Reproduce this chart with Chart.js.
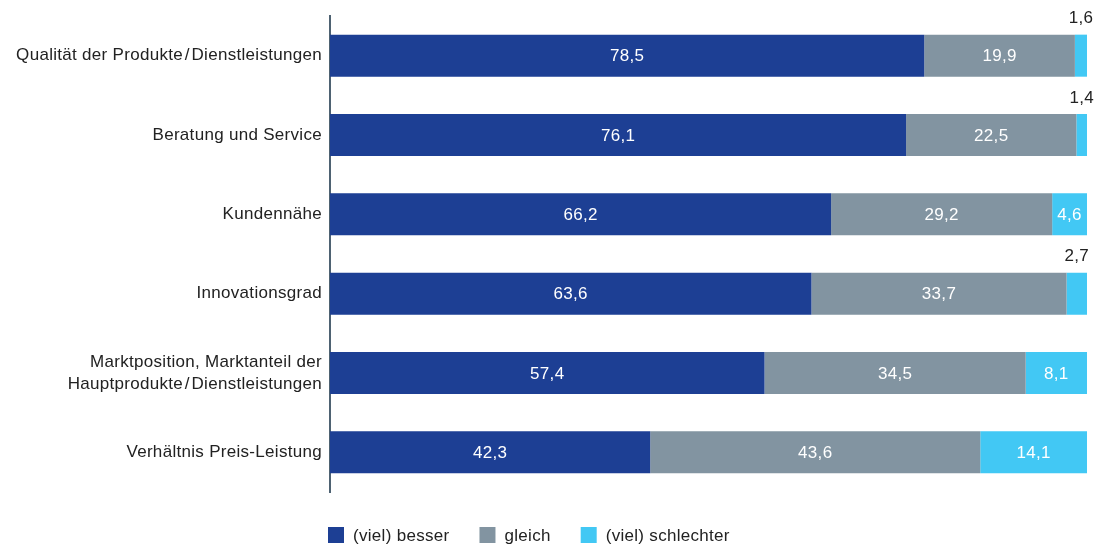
<!DOCTYPE html>
<html>
<head>
<meta charset="utf-8">
<script src="https://cdn.jsdelivr.net/npm/chart.js@4/dist/chart.umd.min.js"></script>
<style>
  html, body { margin: 0; padding: 0; background: #fff; }
  #wrap { width: 1096px; height: 547px; }
</style>
</head>
<body>
<div id="wrap"><canvas id="myChart" width="1096" height="547"></canvas></div>
<script>
// categories and shares in percent (each row sums to 100)
const categories = [
  'Qualität der Produkte\u200A/\u200ADienstleistungen',
  'Beratung und Service',
  'Kundennähe',
  'Innovationsgrad',
  ['Marktposition, Marktanteil der', 'Hauptprodukte\u200A/\u200ADienstleistungen'],
  'Verhältnis Preis-Leistung'
];
const besser = [78.5, 76.1, 66.2, 63.6, 57.4, 42.3];
const gleich = [19.9, 22.5, 29.2, 33.7, 34.5, 43.6];
const schlechter = [1.6, 1.4, 4.6, 2.7, 8.1, 14.1];
const seriesNames = ['(viel) besser', 'gleich', '(viel) schlechter'];
const seriesColors = ['#1d3f94', '#8294a1', '#42c8f4'];

const FONT = '"Liberation Sans", Arial, Helvetica, sans-serif';
const SPACING = '0.3px';
const fmt = v => v.toFixed(1).replace('.', ',');

// slightly wider tracking for all text on the canvas
const tracking = {
  id: 'tracking',
  beforeDraw(chart) { chart.ctx.letterSpacing = SPACING; }
};

// values written on the bars; small segments get their label above the bar
const valueLabels = {
  id: 'valueLabels',
  afterDatasetsDraw(chart) {
    const ctx = chart.ctx;
    ctx.save();
    ctx.letterSpacing = SPACING;
    ctx.font = '17px ' + FONT;
    ctx.textAlign = 'center';
    ctx.textBaseline = 'middle';
    chart.data.datasets.forEach((ds, i) => {
      chart.getDatasetMeta(i).data.forEach((bar, j) => {
        const v = ds.data[j];
        const cx = (bar.x + bar.base) / 2;
        if (v >= 4) {
          ctx.fillStyle = '#ffffff';
          ctx.fillText(fmt(v), cx, bar.y + 1);
        } else {
          ctx.fillStyle = '#222222';
          ctx.fillText(fmt(v), cx, bar.y - bar.height / 2 - 16);
        }
      });
    });
    ctx.restore();
  }
};

// legend row under the chart, starting at the axis line
const bottomLegend = {
  id: 'bottomLegend',
  afterDraw(chart) {
    const ctx = chart.ctx;
    ctx.save();
    ctx.letterSpacing = SPACING;
    ctx.font = '17px ' + FONT;
    ctx.textBaseline = 'middle';
    let x = chart.chartArea.left - 2;
    const y = 535;
    chart.data.datasets.forEach(ds => {
      ctx.fillStyle = ds.backgroundColor;
      ctx.fillRect(x, y - 8, 16, 16);
      ctx.fillStyle = '#222222';
      ctx.fillText(ds.label, x + 25, y + 1);
      x += 25 + ctx.measureText(ds.label).width + 30;
    });
    ctx.restore();
  }
};

const data = {
  labels: categories,
  datasets: [besser, gleich, schlechter].map((vals, i) => ({
    label: seriesNames[i],
    data: vals,
    backgroundColor: seriesColors[i],
    borderWidth: 0,
    barPercentage: 0.53,
    categoryPercentage: 1.0
  }))
};

const config = {
  type: 'bar',
  data: data,
  options: {
    indexAxis: 'y',
    responsive: false,
    animation: false,
    layout: { padding: { top: 16, right: 9, bottom: 55, left: 0 } },
    plugins: {
      legend: { display: false },
      tooltip: { enabled: false }
    },
    scales: {
      x: {
        stacked: true,
        min: 0,
        max: 100,
        display: false
      },
      y: {
        stacked: true,
        grid: { display: false },
        border: { display: true, color: '#4e6272', width: 2 },
        ticks: {
          color: '#222222',
          padding: 0,
          font: { family: FONT, size: 17, lineHeight: 1.3 }
        },
        afterFit(scale) { scale.width = 330; }
      }
    }
  },
  plugins: [tracking, valueLabels, bottomLegend]
};

const myChart = new Chart(document.getElementById('myChart'), config);
</script>
</body>
</html>
